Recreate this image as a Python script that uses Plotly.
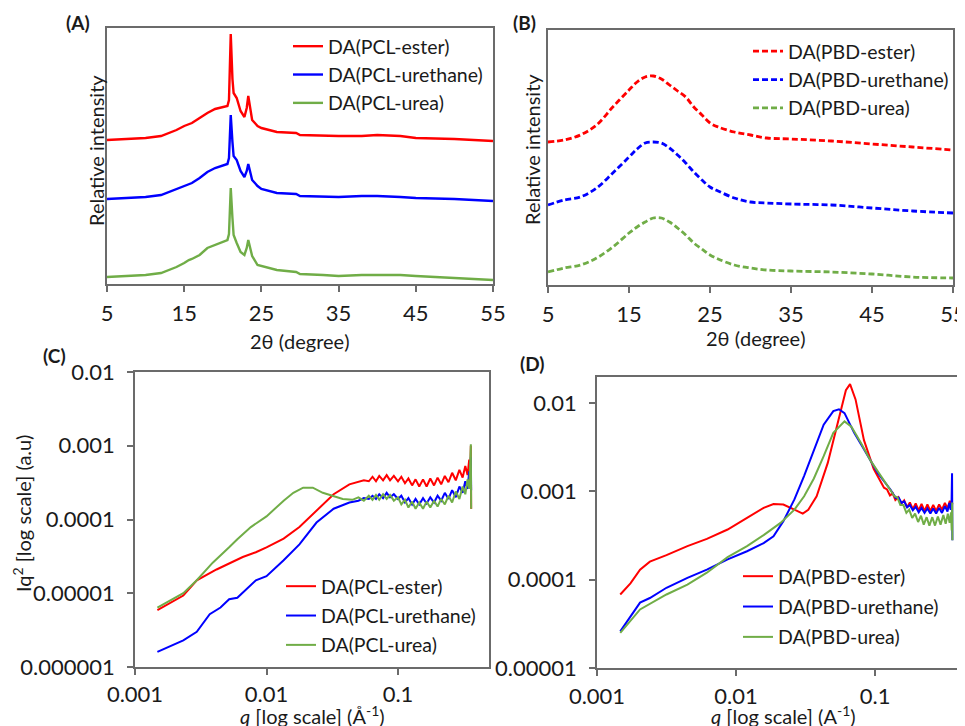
import plotly.graph_objects as go

# ---------------- Panel A: XRD, PCL series (relative intensity, arbitrary units) ----------------
a_x = [5, 8, 10, 12, 13, 14, 15, 15.6, 16, 17, 18, 19, 20, 20.6, 20.8, 21.03, 21.25, 21.4, 21.8, 22.3, 22.8, 23.1, 23.3, 23.5, 23.8, 24.5, 25, 27, 29.5, 30, 33, 35, 38, 40, 43, 45, 50, 55]
a_ester = [144, 145, 146, 148, 151, 154, 158, 160, 161, 166, 171, 175, 177, 178, 184, 250, 205, 191, 186, 173, 167, 176, 188, 178, 164, 158, 156, 152, 151, 149, 148, 148, 148, 149, 148, 146, 145, 143]
a_urethane = [85, 86, 87, 89, 92, 95, 98, 100, 101, 106, 112, 116, 119, 120, 126, 169, 142, 128, 124, 113, 107, 113, 120, 113, 104, 98, 95, 91, 90, 88, 87, 87, 88, 88, 87, 86, 85, 83]
a_urea = [7, 8, 9, 11, 14, 17, 21, 24, 25, 29, 36, 39, 42, 44, 50, 96, 66, 49, 41, 32, 29, 36, 44, 37, 28, 19, 18, 14, 12, 10, 9, 8, 9, 9, 9, 8, 6, 4]

# ---------------- Panel B: XRD, PBD series ----------------
b_x = [5, 7, 9, 11, 13, 15, 16, 17, 18, 19, 20, 21, 22, 23, 24, 25, 26, 28, 30, 32, 35, 40, 45, 50, 55]
b_ester = [143, 145, 150, 160, 178, 195, 203, 208, 209, 206, 200, 194, 188, 178, 170, 162, 158, 153, 150, 147, 146, 144, 141, 138, 135]
b_urethane = [80, 85, 88, 97, 112, 128, 136, 142, 143, 142, 137, 130, 122, 113, 105, 98, 94, 87, 83, 82, 81, 80, 77, 74, 72]
b_urea = [13, 17, 20, 27, 38, 52, 58, 63, 67, 67, 63, 57, 50, 42, 36, 30, 26, 20, 17, 15, 14, 13, 11, 8, 7]

# ---------------- Panel C: SAXS Iq^2, PCL series ----------------
c_ester_q = [0.00148, 0.00233, 0.00295, 0.00417, 0.0066, 0.0083, 0.0100, 0.0135, 0.0178, 0.024, 0.0324, 0.0427, 0.05, 0.055,
             0.06, 0.064, 0.068, 0.072, 0.077, 0.082, 0.087, 0.093, 0.1, 0.106, 0.113, 0.12, 0.128, 0.136, 0.145, 0.155,
             0.165, 0.176, 0.188, 0.2, 0.213, 0.227, 0.242, 0.258, 0.275, 0.293, 0.31, 0.325, 0.338, 0.348, 0.354, 0.358, 0.36]
c_ester_i = [5.9e-6, 9.3e-6, 1.5e-5, 2.1e-5, 3.1e-5, 3.6e-5, 4.2e-5, 5.5e-5, 7.9e-5, 1.3e-4, 2.2e-4, 3.0e-4, 3.2e-4, 3.4e-4,
             3.3e-4, 3.8e-4, 3.3e-4, 3.9e-4, 3.4e-4, 4.0e-4, 3.4e-4, 3.9e-4, 3.3e-4, 3.8e-4, 3.1e-4, 3.6e-4, 2.9e-4, 3.5e-4, 2.8e-4, 3.5e-4,
             2.8e-4, 3.6e-4, 2.9e-4, 3.7e-4, 3.0e-4, 3.9e-4, 3.2e-4, 4.3e-4, 3.4e-4, 4.7e-4, 3.7e-4, 5.3e-4, 4.0e-4, 6.5e-4, 3.2e-4, 1.0e-3, 1.4e-4]

c_urethane_q = [0.00148, 0.00233, 0.00295, 0.0037, 0.00447, 0.0052, 0.0060, 0.0083, 0.0100, 0.0135, 0.0178, 0.024, 0.0324, 0.0427,
                0.05, 0.055, 0.06, 0.064, 0.068, 0.072, 0.077, 0.082, 0.087, 0.093, 0.1, 0.106, 0.113, 0.12, 0.128, 0.136, 0.145,
                0.155, 0.165, 0.176, 0.188, 0.2, 0.213, 0.227, 0.242, 0.258, 0.275, 0.293, 0.31, 0.325, 0.338, 0.348, 0.354, 0.358, 0.36]
c_urethane_i = [1.6e-6, 2.3e-6, 3.0e-6, 5.2e-6, 6.4e-6, 8.3e-6, 8.7e-6, 1.5e-5, 1.7e-5, 2.8e-5, 4.6e-5, 9.1e-5, 1.4e-4, 1.7e-4,
                1.8e-4, 1.95e-4, 1.9e-4, 2.1e-4, 1.9e-4, 2.2e-4, 1.95e-4, 2.3e-4, 2.0e-4, 2.2e-4, 1.9e-4, 2.1e-4, 1.7e-4, 1.95e-4, 1.6e-4, 1.9e-4, 1.6e-4,
                1.95e-4, 1.65e-4, 2.0e-4, 1.7e-4, 2.1e-4, 1.8e-4, 2.3e-4, 1.9e-4, 2.5e-4, 2.0e-4, 2.8e-4, 2.3e-4, 3.3e-4, 2.6e-4, 4.5e-4, 3.0e-4, 7.0e-4, 2.5e-4]

c_urea_q = [0.00148, 0.00233, 0.00295, 0.0039, 0.0052, 0.0060, 0.0076, 0.0100, 0.0135, 0.0160, 0.0190, 0.0225, 0.0268, 0.0324, 0.038, 0.045,
            0.05, 0.055, 0.06, 0.064, 0.068, 0.072, 0.077, 0.082, 0.087, 0.093, 0.1, 0.106, 0.113, 0.12, 0.128, 0.136, 0.145, 0.155,
            0.165, 0.176, 0.188, 0.2, 0.213, 0.227, 0.242, 0.258, 0.275, 0.293, 0.31, 0.325, 0.338, 0.348, 0.354, 0.358, 0.36]
c_urea_i = [6.4e-6, 1.0e-5, 1.5e-5, 2.6e-5, 4.2e-5, 5.4e-5, 7.9e-5, 1.1e-4, 1.8e-4, 2.3e-4, 2.7e-4, 2.7e-4, 2.3e-4, 2.1e-4, 1.9e-4, 1.85e-4,
            2.0e-4, 1.8e-4, 2.1e-4, 1.85e-4, 2.15e-4, 1.85e-4, 2.2e-4, 1.9e-4, 2.15e-4, 1.8e-4, 2.0e-4, 1.6e-4, 1.85e-4, 1.45e-4, 1.75e-4, 1.4e-4, 1.7e-4, 1.4e-4,
            1.75e-4, 1.45e-4, 1.8e-4, 1.5e-4, 1.9e-4, 1.6e-4, 2.1e-4, 1.7e-4, 2.4e-4, 1.9e-4, 2.8e-4, 2.2e-4, 3.5e-4, 2.6e-4, 5.0e-4, 1.05e-3, 1.4e-4]

# ---------------- Panel D: SAXS Iq^2, PBD series ----------------
d_ester_q = [0.00147, 0.00174, 0.00204, 0.0024, 0.00316, 0.00447, 0.00617, 0.0087, 0.012, 0.0158, 0.0186, 0.0219, 0.0263, 0.0302,
             0.0331, 0.038, 0.0457, 0.0537, 0.0617, 0.0661, 0.0724, 0.0832, 0.0977, 0.116, 0.122, 0.128, 0.134, 0.14, 0.147, 0.154,
             0.162, 0.17, 0.178, 0.187, 0.196, 0.206, 0.216, 0.227, 0.238, 0.25, 0.262, 0.275, 0.289, 0.303, 0.318, 0.332, 0.345, 0.355, 0.36]
d_ester_i = [6.8e-5, 9.1e-5, 1.3e-4, 1.6e-4, 1.9e-4, 2.4e-4, 2.9e-4, 3.7e-4, 5.0e-4, 6.5e-4, 7.2e-4, 7.1e-4, 6.2e-4, 5.6e-4,
             6.2e-4, 8.8e-4, 2.1e-3, 5.9e-3, 1.4e-2, 1.64e-2, 1.1e-2, 3.8e-3, 1.8e-3, 1.1e-3, 1.05e-3, 9.0e-4, 9.5e-4, 8.0e-4, 8.6e-4, 7.2e-4,
             7.9e-4, 6.6e-4, 7.5e-4, 6.3e-4, 7.3e-4, 6.1e-4, 7.2e-4, 6.0e-4, 7.1e-4, 6.0e-4, 7.0e-4, 6.0e-4, 7.1e-4, 6.2e-4, 7.4e-4, 6.4e-4, 7.8e-4, 6.8e-4, 7.4e-4]

d_urethane_q = [0.00147, 0.00204, 0.0024, 0.00316, 0.00447, 0.00617, 0.0087, 0.012, 0.0158, 0.0186, 0.0219, 0.0263, 0.0309, 0.0363,
                0.0427, 0.0501, 0.055, 0.0603, 0.0708, 0.0832, 0.105, 0.129, 0.135, 0.141, 0.148, 0.155, 0.162, 0.17, 0.178, 0.187,
                0.196, 0.206, 0.216, 0.227, 0.238, 0.25, 0.262, 0.275, 0.289, 0.303, 0.318, 0.332, 0.342, 0.35, 0.355, 0.358, 0.36]
d_urethane_i = [2.6e-5, 5.5e-5, 6.2e-5, 8.1e-5, 1.05e-4, 1.3e-4, 1.7e-4, 2.1e-4, 2.6e-4, 3.1e-4, 4.6e-4, 8.1e-4, 1.5e-3, 3.0e-3,
                5.7e-3, 8.1e-3, 8.5e-3, 7.7e-3, 4.6e-3, 3.0e-3, 1.6e-3, 1.05e-3, 9.5e-4, 8.4e-4, 8.5e-4, 7.4e-4, 7.7e-4, 6.6e-4, 7.0e-4, 6.1e-4,
                6.7e-4, 5.8e-4, 6.5e-4, 5.7e-4, 6.4e-4, 5.6e-4, 6.4e-4, 5.6e-4, 6.5e-4, 5.7e-4, 6.8e-4, 5.9e-4, 7.4e-4, 6.2e-4, 7.5e-4, 1.6e-3, 2.8e-4]

d_urea_q = [0.00147, 0.00204, 0.00316, 0.00447, 0.00617, 0.0087, 0.012, 0.0158, 0.0209, 0.0263, 0.0309, 0.0363, 0.0427, 0.0501,
            0.0603, 0.0676, 0.0794, 0.0933, 0.110, 0.138, 0.145, 0.152, 0.16, 0.168, 0.176, 0.185, 0.194, 0.204, 0.214, 0.224,
            0.235, 0.246, 0.258, 0.27, 0.283, 0.296, 0.31, 0.322, 0.334, 0.344, 0.352, 0.356, 0.359, 0.36]
d_urea_i = [2.5e-5, 4.6e-5, 6.8e-5, 8.8e-5, 1.2e-4, 1.8e-4, 2.4e-4, 3.2e-4, 4.4e-4, 6.2e-4, 8.8e-4, 1.4e-3, 2.5e-3, 4.6e-3,
            6.2e-3, 5.4e-3, 3.5e-3, 2.2e-3, 1.5e-3, 8.8e-4, 8.5e-4, 7.0e-4, 7.0e-4, 5.7e-4, 6.2e-4, 5.0e-4, 5.6e-4, 4.5e-4, 5.3e-4, 4.2e-4,
            5.1e-4, 4.1e-4, 5.1e-4, 4.1e-4, 5.2e-4, 4.2e-4, 5.4e-4, 4.3e-4, 5.6e-4, 4.4e-4, 5.8e-4, 3.6e-4, 7.5e-4, 2.8e-4]

# ---------------- Labels ----------------
names_a = ["DA(PCL-ester)", "DA(PCL-urethane)", "DA(PCL-urea)"]
names_b = ["DA(PBD-ester)", "DA(PBD-urethane)", "DA(PBD-urea)"]
xrd_ticks = [5, 15, 25, 35, 45, 55]
c_xtickvals = [0.001, 0.01, 0.1]
c_xticktext = ["0.001", "0.01", "0.1"]
c_ytickvals = [1e-6, 1e-5, 1e-4, 1e-3, 1e-2]
c_yticktext = ["0.000001", "0.00001", "0.0001", "0.001", "0.01"]
d_ytickvals = [1e-5, 1e-4, 1e-3, 1e-2]
d_yticktext = ["0.00001", "0.0001", "0.001", "0.01"]
xrd_xtitle = "2θ (degree)"
xrd_ytitle = "Relative intensity"
c_xtitle = "<i>q</i> [log scale] (Å<sup>-1</sup>)"
d_xtitle = "<i>q</i> [log scale] (A<sup>-1</sup>)"
c_ytitle = "Iq<sup>2</sup> [log scale] (a.u)"

RED, BLUE, GREEN = "#ff0000", "#0000ff", "#70ad47"
FONT = "Lato, 'Open Sans', sans-serif"
TXT = "#1a1a1a"
BOX = "#6b6b6b"

fig = go.Figure()

def add(x, y, name, color, xa, ya, legend, dash="solid", width=2.2, shape="linear"):
    fig.add_trace(go.Scatter(x=x, y=y, name=name, mode="lines", xaxis=xa, yaxis=ya,
                             legend=legend, legendgroup=legend + name,
                             line=dict(color=color, width=width, dash=dash, shape=shape)))

for yv, nm, col in zip([a_ester, a_urethane, a_urea], names_a, [RED, BLUE, GREEN]):
    add(a_x, yv, nm, col, "x", "y", "legend", width=2.4)
for yv, nm, col in zip([b_ester, b_urethane, b_urea], names_b, [RED, BLUE, GREEN]):
    add(b_x, yv, nm, col, "x2", "y2", "legend2", dash="6px,3px", width=2.8, shape="spline")
for xv, yv, nm, col in zip([c_ester_q, c_urethane_q, c_urea_q], [c_ester_i, c_urethane_i, c_urea_i], names_a, [RED, BLUE, GREEN]):
    add(xv, yv, nm, col, "x3", "y3", "legend3", width=2.0)
for xv, yv, nm, col in zip([d_ester_q, d_urethane_q, d_urea_q], [d_ester_i, d_urethane_i, d_urea_i], names_b, [RED, BLUE, GREEN]):
    add(xv, yv, nm, col, "x4", "y4", "legend4", width=2.0)

# page body has an 8px margin: figure is sized to fit the window, layout coords given in window pixels
OFF = 8
W, H = 965 - OFF, 726 - OFF
def fx(x):
    return (x - OFF) / W
def fy(y):
    return 1 - (y - OFF) / H
def px(x0, x1):
    return [fx(x0), min(1.0, fx(x1))]
def py(top, bottom):
    return [fy(bottom), fy(top)]

tickfont = dict(family=FONT, size=22, color=TXT)
titlefont = dict(family=FONT, size=20, color=TXT)
legfont = dict(family=FONT, size=19.5, color=TXT)

def xcommon(**kw):
    d = dict(showline=True, linecolor=BOX, linewidth=1.5, mirror=True, ticks="outside", ticklen=6,
             tickcolor=BOX, tickwidth=1.5, showgrid=False, zeroline=False, tickfont=tickfont,
             automargin=False, ticklabelstandoff=3, ticklabeloverflow="allow")
    d.update(kw)
    return d

def ycommon(**kw):
    d = dict(showline=True, linecolor=BOX, linewidth=1.5, mirror=True, showgrid=False, zeroline=False,
             tickfont=tickfont, automargin=False)
    d.update(kw)
    return d

def leg(x, y, gap):
    return dict(x=fx(x), y=fy(y), xanchor="left", yanchor="top", bgcolor="rgba(0,0,0,0)",
                font=legfont, tracegroupgap=gap)

fig.update_layout(
    width=W, height=H, margin=dict(l=0, r=0, t=0, b=0, autoexpand=False),
    paper_bgcolor="white", plot_bgcolor="white",
    font=dict(family=FONT, color=TXT),
    xaxis=xcommon(domain=px(107, 493), range=[5, 55], tickvals=xrd_ticks, anchor="y"),
    yaxis=ycommon(domain=py(28, 284), range=[0, 256], showticklabels=False, ticks="", anchor="x"),
    xaxis2=xcommon(domain=px(548, 953), range=[5, 55], tickvals=xrd_ticks, anchor="y2"),
    yaxis2=ycommon(domain=py(30, 285), range=[0, 255], showticklabels=False, ticks="", anchor="x2"),
    xaxis3=xcommon(domain=px(135, 489), type="log", range=[-3, -0.308], tickvals=c_xtickvals,
                   ticktext=c_xticktext, anchor="y3", ticklabelstandoff=1),
    yaxis3=ycommon(domain=py(372, 667), type="log", range=[-6, -2], tickvals=c_ytickvals,
                   ticktext=c_yticktext, ticks="outside", ticklen=6, tickcolor=BOX, tickwidth=1.5, anchor="x3",
                   ticklabelstandoff=8),
    xaxis4=xcommon(domain=px(597, 965), type="log", range=[-3, -0.353], tickvals=c_xtickvals,
                   ticktext=c_xticktext, anchor="y4", ticklabelstandoff=2),
    yaxis4=ycommon(domain=py(377, 668), type="log", range=[-5, -1.705], tickvals=d_ytickvals,
                   ticktext=d_yticktext, ticks="outside", ticklen=6, tickcolor=BOX, tickwidth=1.5, anchor="x4",
                   mirror=False, ticklabelstandoff=8),
    legend=leg(288, 27, 0),
    legend2=leg(748, 32, 0),
    legend3=leg(281, 567, 1),
    legend4=leg(738, 557, 2),
    showlegend=True,
)

# axis titles (placed in window pixels)
titles = [(xrd_xtitle, 300, 341, 0), (xrd_xtitle, 756, 338, 0),
          (xrd_ytitle, 96, 151, -90), (xrd_ytitle, 532, 150, -90),
          (c_xtitle, 312, 715, 0), (d_xtitle, 783, 715, 0), (c_ytitle, 22, 514, -90)]
for txt, tx, ty, ang in titles:
    fig.add_annotation(text=txt, x=fx(tx), y=fy(ty), xref="paper", yref="paper", showarrow=False,
                       xanchor="center", yanchor="middle", textangle=ang, font=titlefont)

labels = [("(A)", 78, 22), ("(B)", 524, 22), ("(C)", 54, 355), ("(D)", 532, 363)]
for txt, lx, ly in labels:
    fig.add_annotation(text=f"<b>{txt}</b>", x=fx(lx), y=fy(ly), xref="paper", yref="paper",
                       showarrow=False, xanchor="center", yanchor="middle",
                       font=dict(family=FONT, size=19, color=TXT))

fig.write_html("out.html")
